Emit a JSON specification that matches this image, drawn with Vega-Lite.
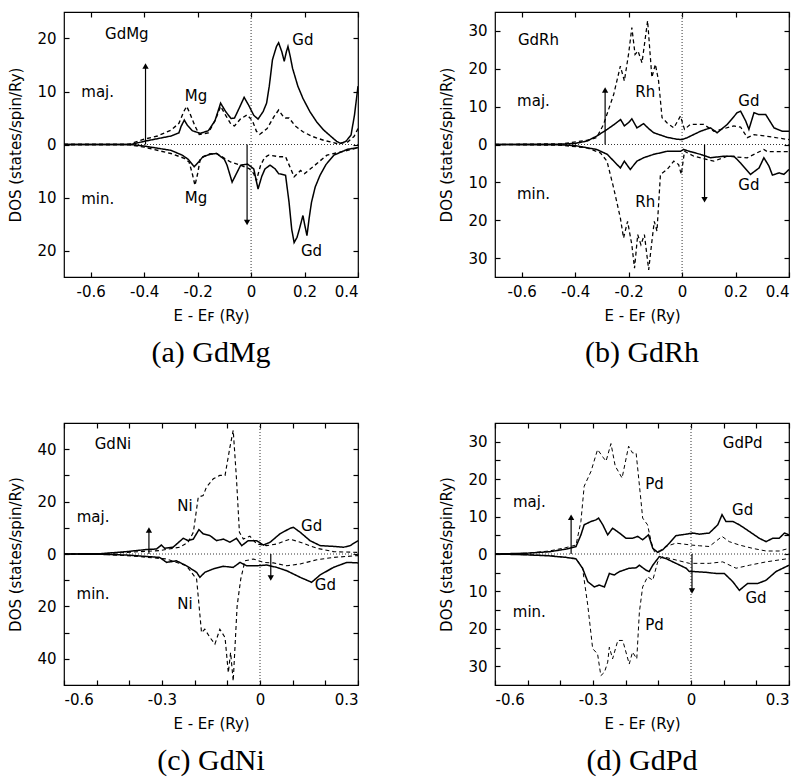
{
"$schema": "https://vega.github.io/schema/vega-lite/v6.json",
"padding": {"top": 10, "left": 8, "right": 0, "bottom": 0},
"datasets": {
"ac": [
{"el":"Gd","sp":"maj","e":-0.7,"v":0},{"el":"Gd","sp":"maj","e":-0.45,"v":0},{"el":"Gd","sp":"maj","e":-0.4,"v":0.6},{"el":"Gd","sp":"maj","e":-0.35,"v":1.1},{"el":"Gd","sp":"maj","e":-0.3,"v":1.6},{"el":"Gd","sp":"maj","e":-0.27,"v":2.2},{"el":"Gd","sp":"maj","e":-0.262,"v":3.4},{"el":"Gd","sp":"maj","e":-0.25,"v":4.6},{"el":"Gd","sp":"maj","e":-0.238,"v":3.6},{"el":"Gd","sp":"maj","e":-0.22,"v":2.6},{"el":"Gd","sp":"maj","e":-0.19,"v":2.1},{"el":"Gd","sp":"maj","e":-0.16,"v":2.6},{"el":"Gd","sp":"maj","e":-0.135,"v":4.5},{"el":"Gd","sp":"maj","e":-0.114,"v":7.8},{"el":"Gd","sp":"maj","e":-0.095,"v":6.2},{"el":"Gd","sp":"maj","e":-0.075,"v":4.9},{"el":"Gd","sp":"maj","e":-0.062,"v":5.0},{"el":"Gd","sp":"maj","e":-0.045,"v":6.8},{"el":"Gd","sp":"maj","e":-0.026,"v":8.9},{"el":"Gd","sp":"maj","e":-0.01,"v":7.5},{"el":"Gd","sp":"maj","e":0.01,"v":5.5},{"el":"Gd","sp":"maj","e":0.026,"v":4.8},{"el":"Gd","sp":"maj","e":0.045,"v":6.2},{"el":"Gd","sp":"maj","e":0.058,"v":7.8},{"el":"Gd","sp":"maj","e":0.068,"v":11},{"el":"Gd","sp":"maj","e":0.08,"v":16},{"el":"Gd","sp":"maj","e":0.095,"v":18.5},{"el":"Gd","sp":"maj","e":0.103,"v":19.2},{"el":"Gd","sp":"maj","e":0.115,"v":17.5},{"el":"Gd","sp":"maj","e":0.124,"v":15.7},{"el":"Gd","sp":"maj","e":0.132,"v":17.5},{"el":"Gd","sp":"maj","e":0.138,"v":18.5},{"el":"Gd","sp":"maj","e":0.147,"v":16.5},{"el":"Gd","sp":"maj","e":0.155,"v":14.4},{"el":"Gd","sp":"maj","e":0.175,"v":11},{"el":"Gd","sp":"maj","e":0.194,"v":8.7},{"el":"Gd","sp":"maj","e":0.22,"v":6.2},{"el":"Gd","sp":"maj","e":0.245,"v":4.3},{"el":"Gd","sp":"maj","e":0.27,"v":2.8},{"el":"Gd","sp":"maj","e":0.297,"v":1.6},{"el":"Gd","sp":"maj","e":0.32,"v":0.6},{"el":"Gd","sp":"maj","e":0.335,"v":0.2},{"el":"Gd","sp":"maj","e":0.355,"v":0.6},{"el":"Gd","sp":"maj","e":0.374,"v":1.8},{"el":"Gd","sp":"maj","e":0.387,"v":5.6},{"el":"Gd","sp":"maj","e":0.4,"v":11},
{"el":"Mg","sp":"maj","e":-0.7,"v":0},{"el":"Mg","sp":"maj","e":-0.46,"v":0},{"el":"Mg","sp":"maj","e":-0.4,"v":1.0},{"el":"Mg","sp":"maj","e":-0.35,"v":1.6},{"el":"Mg","sp":"maj","e":-0.3,"v":2.7},{"el":"Mg","sp":"maj","e":-0.27,"v":4},{"el":"Mg","sp":"maj","e":-0.252,"v":6.2},{"el":"Mg","sp":"maj","e":-0.241,"v":7.2},{"el":"Mg","sp":"maj","e":-0.23,"v":6},{"el":"Mg","sp":"maj","e":-0.21,"v":3.5},{"el":"Mg","sp":"maj","e":-0.194,"v":1.9},{"el":"Mg","sp":"maj","e":-0.16,"v":2.2},{"el":"Mg","sp":"maj","e":-0.135,"v":4.5},{"el":"Mg","sp":"maj","e":-0.114,"v":7.2},{"el":"Mg","sp":"maj","e":-0.095,"v":5.5},{"el":"Mg","sp":"maj","e":-0.075,"v":3.8},{"el":"Mg","sp":"maj","e":-0.062,"v":3.5},{"el":"Mg","sp":"maj","e":-0.04,"v":4.8},{"el":"Mg","sp":"maj","e":-0.015,"v":5.6},{"el":"Mg","sp":"maj","e":0.005,"v":4.5},{"el":"Mg","sp":"maj","e":0.02,"v":2.5},{"el":"Mg","sp":"maj","e":0.032,"v":1.9},{"el":"Mg","sp":"maj","e":0.06,"v":3},{"el":"Mg","sp":"maj","e":0.085,"v":5.2},{"el":"Mg","sp":"maj","e":0.103,"v":6.5},{"el":"Mg","sp":"maj","e":0.12,"v":5.3},{"el":"Mg","sp":"maj","e":0.128,"v":5.0},{"el":"Mg","sp":"maj","e":0.142,"v":5.0},{"el":"Mg","sp":"maj","e":0.165,"v":3.5},{"el":"Mg","sp":"maj","e":0.194,"v":2.4},{"el":"Mg","sp":"maj","e":0.23,"v":1.5},{"el":"Mg","sp":"maj","e":0.271,"v":0.8},{"el":"Mg","sp":"maj","e":0.32,"v":0.2},{"el":"Mg","sp":"maj","e":0.36,"v":0.4},{"el":"Mg","sp":"maj","e":0.385,"v":1.5},{"el":"Mg","sp":"maj","e":0.4,"v":3},
{"el":"Gd","sp":"min","e":-0.7,"v":0},{"el":"Gd","sp":"min","e":-0.45,"v":0},{"el":"Gd","sp":"min","e":-0.4,"v":-0.3},{"el":"Gd","sp":"min","e":-0.3,"v":-1.1},{"el":"Gd","sp":"min","e":-0.258,"v":-2},{"el":"Gd","sp":"min","e":-0.235,"v":-2.8},{"el":"Gd","sp":"min","e":-0.213,"v":-4.2},{"el":"Gd","sp":"min","e":-0.195,"v":-3.2},{"el":"Gd","sp":"min","e":-0.18,"v":-2.3},{"el":"Gd","sp":"min","e":-0.15,"v":-1.8},{"el":"Gd","sp":"min","e":-0.129,"v":-1.7},{"el":"Gd","sp":"min","e":-0.1,"v":-2.8},{"el":"Gd","sp":"min","e":-0.09,"v":-3.9},{"el":"Gd","sp":"min","e":-0.071,"v":-7.1},{"el":"Gd","sp":"min","e":-0.055,"v":-5.5},{"el":"Gd","sp":"min","e":-0.039,"v":-3.9},{"el":"Gd","sp":"min","e":-0.013,"v":-3.7},{"el":"Gd","sp":"min","e":0.01,"v":-4.6},{"el":"Gd","sp":"min","e":0.026,"v":-8.4},{"el":"Gd","sp":"min","e":0.04,"v":-6},{"el":"Gd","sp":"min","e":0.052,"v":-4.6},{"el":"Gd","sp":"min","e":0.071,"v":-3.9},{"el":"Gd","sp":"min","e":0.09,"v":-4.6},{"el":"Gd","sp":"min","e":0.103,"v":-5.5},{"el":"Gd","sp":"min","e":0.129,"v":-5.8},{"el":"Gd","sp":"min","e":0.142,"v":-10.9},{"el":"Gd","sp":"min","e":0.152,"v":-16},{"el":"Gd","sp":"min","e":0.161,"v":-18.5},{"el":"Gd","sp":"min","e":0.172,"v":-17.5},{"el":"Gd","sp":"min","e":0.181,"v":-15.9},{"el":"Gd","sp":"min","e":0.194,"v":-13.4},{"el":"Gd","sp":"min","e":0.2,"v":-15},{"el":"Gd","sp":"min","e":0.209,"v":-17.2},{"el":"Gd","sp":"min","e":0.217,"v":-14},{"el":"Gd","sp":"min","e":0.226,"v":-10.9},{"el":"Gd","sp":"min","e":0.24,"v":-8},{"el":"Gd","sp":"min","e":0.258,"v":-5.8},{"el":"Gd","sp":"min","e":0.28,"v":-3.8},{"el":"Gd","sp":"min","e":0.31,"v":-2.0},{"el":"Gd","sp":"min","e":0.361,"v":-0.9},{"el":"Gd","sp":"min","e":0.4,"v":-0.6},
{"el":"Mg","sp":"min","e":-0.7,"v":0},{"el":"Mg","sp":"min","e":-0.46,"v":0},{"el":"Mg","sp":"min","e":-0.4,"v":-0.5},{"el":"Mg","sp":"min","e":-0.3,"v":-1.7},{"el":"Mg","sp":"min","e":-0.25,"v":-2.6},{"el":"Mg","sp":"min","e":-0.232,"v":-3.3},{"el":"Mg","sp":"min","e":-0.22,"v":-5.5},{"el":"Mg","sp":"min","e":-0.21,"v":-7.7},{"el":"Mg","sp":"min","e":-0.2,"v":-5.5},{"el":"Mg","sp":"min","e":-0.19,"v":-2.7},{"el":"Mg","sp":"min","e":-0.16,"v":-1.8},{"el":"Mg","sp":"min","e":-0.129,"v":-1.7},{"el":"Mg","sp":"min","e":-0.077,"v":-3.3},{"el":"Mg","sp":"min","e":-0.039,"v":-3.9},{"el":"Mg","sp":"min","e":-0.006,"v":-4.6},{"el":"Mg","sp":"min","e":0.01,"v":-5.5},{"el":"Mg","sp":"min","e":0.02,"v":-6.8},{"el":"Mg","sp":"min","e":0.035,"v":-4},{"el":"Mg","sp":"min","e":0.05,"v":-2.5},{"el":"Mg","sp":"min","e":0.065,"v":-2.0},{"el":"Mg","sp":"min","e":0.103,"v":-2.3},{"el":"Mg","sp":"min","e":0.129,"v":-2.3},{"el":"Mg","sp":"min","e":0.161,"v":-6.1},{"el":"Mg","sp":"min","e":0.185,"v":-4.9},{"el":"Mg","sp":"min","e":0.2,"v":-5.5},{"el":"Mg","sp":"min","e":0.232,"v":-4.2},{"el":"Mg","sp":"min","e":0.284,"v":-2.0},{"el":"Mg","sp":"min","e":0.361,"v":-1.1},{"el":"Mg","sp":"min","e":0.4,"v":-0.6}
],
"bc": [
{"el":"Gd","sp":"maj","e":-0.7,"v":0},{"el":"Gd","sp":"maj","e":-0.45,"v":0.1},{"el":"Gd","sp":"maj","e":-0.4,"v":0.3},{"el":"Gd","sp":"maj","e":-0.356,"v":0.9},{"el":"Gd","sp":"maj","e":-0.32,"v":2.2},{"el":"Gd","sp":"maj","e":-0.28,"v":4},{"el":"Gd","sp":"maj","e":-0.25,"v":5.5},{"el":"Gd","sp":"maj","e":-0.23,"v":6.6},{"el":"Gd","sp":"maj","e":-0.216,"v":4.9},{"el":"Gd","sp":"maj","e":-0.2,"v":5.8},{"el":"Gd","sp":"maj","e":-0.188,"v":6.8},{"el":"Gd","sp":"maj","e":-0.169,"v":4.4},{"el":"Gd","sp":"maj","e":-0.144,"v":5.5},{"el":"Gd","sp":"maj","e":-0.125,"v":4.2},{"el":"Gd","sp":"maj","e":-0.106,"v":3.1},{"el":"Gd","sp":"maj","e":-0.056,"v":1.9},{"el":"Gd","sp":"maj","e":-0.02,"v":1.4},{"el":"Gd","sp":"maj","e":0,"v":1.3},{"el":"Gd","sp":"maj","e":0.019,"v":1.8},{"el":"Gd","sp":"maj","e":0.069,"v":3.5},{"el":"Gd","sp":"maj","e":0.106,"v":4.4},{"el":"Gd","sp":"maj","e":0.131,"v":3.1},{"el":"Gd","sp":"maj","e":0.169,"v":5.3},{"el":"Gd","sp":"maj","e":0.206,"v":8.4},{"el":"Gd","sp":"maj","e":0.219,"v":8.8},{"el":"Gd","sp":"maj","e":0.238,"v":6.2},{"el":"Gd","sp":"maj","e":0.25,"v":4.0},{"el":"Gd","sp":"maj","e":0.269,"v":8.4},{"el":"Gd","sp":"maj","e":0.288,"v":7.9},{"el":"Gd","sp":"maj","e":0.313,"v":7.9},{"el":"Gd","sp":"maj","e":0.344,"v":4.4},{"el":"Gd","sp":"maj","e":0.375,"v":3.5},{"el":"Gd","sp":"maj","e":0.4,"v":3.5},
{"el":"Rh","sp":"maj","e":-0.7,"v":0},{"el":"Rh","sp":"maj","e":-0.45,"v":0.2},{"el":"Rh","sp":"maj","e":-0.356,"v":1.1},{"el":"Rh","sp":"maj","e":-0.32,"v":1.8},{"el":"Rh","sp":"maj","e":-0.294,"v":5.3},{"el":"Rh","sp":"maj","e":-0.256,"v":13.2},{"el":"Rh","sp":"maj","e":-0.231,"v":20.7},{"el":"Rh","sp":"maj","e":-0.216,"v":16.8},{"el":"Rh","sp":"maj","e":-0.2,"v":24},{"el":"Rh","sp":"maj","e":-0.188,"v":30.9},{"el":"Rh","sp":"maj","e":-0.176,"v":23.8},{"el":"Rh","sp":"maj","e":-0.165,"v":24.7},{"el":"Rh","sp":"maj","e":-0.15,"v":21.6},{"el":"Rh","sp":"maj","e":-0.129,"v":32.7},{"el":"Rh","sp":"maj","e":-0.113,"v":17.7},{"el":"Rh","sp":"maj","e":-0.1,"v":21.2},{"el":"Rh","sp":"maj","e":-0.088,"v":16.8},{"el":"Rh","sp":"maj","e":-0.075,"v":7.1},{"el":"Rh","sp":"maj","e":-0.056,"v":5.7},{"el":"Rh","sp":"maj","e":-0.031,"v":4.4},{"el":"Rh","sp":"maj","e":-0.006,"v":7.5},{"el":"Rh","sp":"maj","e":0.009,"v":4.0},{"el":"Rh","sp":"maj","e":0.031,"v":5.3},{"el":"Rh","sp":"maj","e":0.081,"v":5.3},{"el":"Rh","sp":"maj","e":0.119,"v":3.5},{"el":"Rh","sp":"maj","e":0.194,"v":4.9},{"el":"Rh","sp":"maj","e":0.219,"v":4.6},{"el":"Rh","sp":"maj","e":0.244,"v":1.8},{"el":"Rh","sp":"maj","e":0.269,"v":2.6},{"el":"Rh","sp":"maj","e":0.313,"v":2.2},{"el":"Rh","sp":"maj","e":0.4,"v":1.3},
{"el":"Gd","sp":"min","e":-0.7,"v":0},{"el":"Gd","sp":"min","e":-0.45,"v":-0.1},{"el":"Gd","sp":"min","e":-0.4,"v":-0.3},{"el":"Gd","sp":"min","e":-0.32,"v":-1.3},{"el":"Gd","sp":"min","e":-0.28,"v":-2.6},{"el":"Gd","sp":"min","e":-0.231,"v":-6.2},{"el":"Gd","sp":"min","e":-0.216,"v":-4.4},{"el":"Gd","sp":"min","e":-0.194,"v":-6.6},{"el":"Gd","sp":"min","e":-0.169,"v":-4.4},{"el":"Gd","sp":"min","e":-0.144,"v":-3.5},{"el":"Gd","sp":"min","e":-0.106,"v":-2.6},{"el":"Gd","sp":"min","e":-0.056,"v":-1.8},{"el":"Gd","sp":"min","e":-0.006,"v":-1.8},{"el":"Gd","sp":"min","e":0.006,"v":-1.3},{"el":"Gd","sp":"min","e":0.031,"v":-1.9},{"el":"Gd","sp":"min","e":0.069,"v":-2.6},{"el":"Gd","sp":"min","e":0.106,"v":-3.5},{"el":"Gd","sp":"min","e":0.156,"v":-3.1},{"el":"Gd","sp":"min","e":0.194,"v":-3.1},{"el":"Gd","sp":"min","e":0.219,"v":-4.9},{"el":"Gd","sp":"min","e":0.256,"v":-7.9},{"el":"Gd","sp":"min","e":0.288,"v":-6.2},{"el":"Gd","sp":"min","e":0.306,"v":-3.5},{"el":"Gd","sp":"min","e":0.325,"v":-5.7},{"el":"Gd","sp":"min","e":0.338,"v":-8.1},{"el":"Gd","sp":"min","e":0.363,"v":-7.5},{"el":"Gd","sp":"min","e":0.381,"v":-7.9},{"el":"Gd","sp":"min","e":0.4,"v":-6.6},
{"el":"Rh","sp":"min","e":-0.7,"v":0},{"el":"Rh","sp":"min","e":-0.45,"v":-0.2},{"el":"Rh","sp":"min","e":-0.356,"v":-0.9},{"el":"Rh","sp":"min","e":-0.306,"v":-2.2},{"el":"Rh","sp":"min","e":-0.281,"v":-4.4},{"el":"Rh","sp":"min","e":-0.256,"v":-11.5},{"el":"Rh","sp":"min","e":-0.231,"v":-19.4},{"el":"Rh","sp":"min","e":-0.219,"v":-24.7},{"el":"Rh","sp":"min","e":-0.204,"v":-20.3},{"el":"Rh","sp":"min","e":-0.188,"v":-26.5},{"el":"Rh","sp":"min","e":-0.178,"v":-32.7},{"el":"Rh","sp":"min","e":-0.166,"v":-23.8},{"el":"Rh","sp":"min","e":-0.154,"v":-26.5},{"el":"Rh","sp":"min","e":-0.141,"v":-23.8},{"el":"Rh","sp":"min","e":-0.125,"v":-33.1},{"el":"Rh","sp":"min","e":-0.113,"v":-25.6},{"el":"Rh","sp":"min","e":-0.104,"v":-20.3},{"el":"Rh","sp":"min","e":-0.094,"v":-22.9},{"el":"Rh","sp":"min","e":-0.081,"v":-7.9},{"el":"Rh","sp":"min","e":-0.056,"v":-6.6},{"el":"Rh","sp":"min","e":-0.031,"v":-4.4},{"el":"Rh","sp":"min","e":-0.013,"v":-5.3},{"el":"Rh","sp":"min","e":-0.003,"v":-7.9},{"el":"Rh","sp":"min","e":0.009,"v":-1.8},{"el":"Rh","sp":"min","e":0.044,"v":-3.1},{"el":"Rh","sp":"min","e":0.119,"v":-4.4},{"el":"Rh","sp":"min","e":0.169,"v":-3.1},{"el":"Rh","sp":"min","e":0.244,"v":-3.5},{"el":"Rh","sp":"min","e":0.306,"v":-1.3},{"el":"Rh","sp":"min","e":0.319,"v":-1.9},{"el":"Rh","sp":"min","e":0.4,"v":-1.9}
],
"cc": [
{"el":"Gd","sp":"maj","e":-0.6,"v":0},{"el":"Gd","sp":"maj","e":-0.49,"v":0.1},{"el":"Gd","sp":"maj","e":-0.409,"v":0.9},{"el":"Gd","sp":"maj","e":-0.348,"v":1.7},{"el":"Gd","sp":"maj","e":-0.317,"v":1.9},{"el":"Gd","sp":"maj","e":-0.302,"v":3.4},{"el":"Gd","sp":"maj","e":-0.292,"v":2.2},{"el":"Gd","sp":"maj","e":-0.266,"v":2.6},{"el":"Gd","sp":"maj","e":-0.235,"v":6.0},{"el":"Gd","sp":"maj","e":-0.22,"v":5.1},{"el":"Gd","sp":"maj","e":-0.204,"v":5.7},{"el":"Gd","sp":"maj","e":-0.187,"v":9.3},{"el":"Gd","sp":"maj","e":-0.174,"v":7.7},{"el":"Gd","sp":"maj","e":-0.153,"v":7.0},{"el":"Gd","sp":"maj","e":-0.133,"v":5.1},{"el":"Gd","sp":"maj","e":-0.112,"v":5.7},{"el":"Gd","sp":"maj","e":-0.092,"v":4.5},{"el":"Gd","sp":"maj","e":-0.072,"v":6.0},{"el":"Gd","sp":"maj","e":-0.056,"v":3.2},{"el":"Gd","sp":"maj","e":-0.036,"v":5.1},{"el":"Gd","sp":"maj","e":-0.01,"v":5.1},{"el":"Gd","sp":"maj","e":0.01,"v":3.4},{"el":"Gd","sp":"maj","e":0.031,"v":4.5},{"el":"Gd","sp":"maj","e":0.061,"v":7.7},{"el":"Gd","sp":"maj","e":0.092,"v":9.8},{"el":"Gd","sp":"maj","e":0.102,"v":10.2},{"el":"Gd","sp":"maj","e":0.123,"v":8.3},{"el":"Gd","sp":"maj","e":0.153,"v":5.1},{"el":"Gd","sp":"maj","e":0.184,"v":3.2},{"el":"Gd","sp":"maj","e":0.225,"v":2.9},{"el":"Gd","sp":"maj","e":0.256,"v":2.6},{"el":"Gd","sp":"maj","e":0.276,"v":3.2},{"el":"Gd","sp":"maj","e":0.3,"v":5.1},
{"el":"Ni","sp":"maj","e":-0.6,"v":0},{"el":"Ni","sp":"maj","e":-0.49,"v":0.1},{"el":"Ni","sp":"maj","e":-0.409,"v":0.6},{"el":"Ni","sp":"maj","e":-0.307,"v":1.3},{"el":"Ni","sp":"maj","e":-0.245,"v":2.6},{"el":"Ni","sp":"maj","e":-0.22,"v":4.5},{"el":"Ni","sp":"maj","e":-0.204,"v":8.3},{"el":"Ni","sp":"maj","e":-0.189,"v":21.7},{"el":"Ni","sp":"maj","e":-0.174,"v":22.3},{"el":"Ni","sp":"maj","e":-0.164,"v":25.5},{"el":"Ni","sp":"maj","e":-0.143,"v":28.7},{"el":"Ni","sp":"maj","e":-0.123,"v":30},{"el":"Ni","sp":"maj","e":-0.107,"v":30},{"el":"Ni","sp":"maj","e":-0.092,"v":40.8},{"el":"Ni","sp":"maj","e":-0.082,"v":47.2},{"el":"Ni","sp":"maj","e":-0.072,"v":28.7},{"el":"Ni","sp":"maj","e":-0.063,"v":8.3},{"el":"Ni","sp":"maj","e":-0.051,"v":5.7},{"el":"Ni","sp":"maj","e":-0.031,"v":6.8},{"el":"Ni","sp":"maj","e":-0.01,"v":3.8},{"el":"Ni","sp":"maj","e":0.02,"v":3.2},{"el":"Ni","sp":"maj","e":0.051,"v":3.8},{"el":"Ni","sp":"maj","e":0.092,"v":5.7},{"el":"Ni","sp":"maj","e":0.123,"v":4.5},{"el":"Ni","sp":"maj","e":0.174,"v":2.2},{"el":"Ni","sp":"maj","e":0.225,"v":0.9},{"el":"Ni","sp":"maj","e":0.3,"v":0.6},
{"el":"Gd","sp":"min","e":-0.6,"v":0},{"el":"Gd","sp":"min","e":-0.49,"v":-0.1},{"el":"Gd","sp":"min","e":-0.409,"v":-0.4},{"el":"Gd","sp":"min","e":-0.307,"v":-1.3},{"el":"Gd","sp":"min","e":-0.286,"v":-3.2},{"el":"Gd","sp":"min","e":-0.256,"v":-2.6},{"el":"Gd","sp":"min","e":-0.225,"v":-4.5},{"el":"Gd","sp":"min","e":-0.194,"v":-7.0},{"el":"Gd","sp":"min","e":-0.184,"v":-8.9},{"el":"Gd","sp":"min","e":-0.169,"v":-7.0},{"el":"Gd","sp":"min","e":-0.143,"v":-5.7},{"el":"Gd","sp":"min","e":-0.112,"v":-4.7},{"el":"Gd","sp":"min","e":-0.082,"v":-5.1},{"el":"Gd","sp":"min","e":-0.061,"v":-3.2},{"el":"Gd","sp":"min","e":-0.041,"v":-4.5},{"el":"Gd","sp":"min","e":-0.01,"v":-4.5},{"el":"Gd","sp":"min","e":0.02,"v":-4.2},{"el":"Gd","sp":"min","e":0.051,"v":-5.1},{"el":"Gd","sp":"min","e":0.082,"v":-6.4},{"el":"Gd","sp":"min","e":0.123,"v":-8.9},{"el":"Gd","sp":"min","e":0.158,"v":-10.8},{"el":"Gd","sp":"min","e":0.184,"v":-8.0},{"el":"Gd","sp":"min","e":0.225,"v":-5.1},{"el":"Gd","sp":"min","e":0.266,"v":-3.2},{"el":"Gd","sp":"min","e":0.3,"v":-3.4},
{"el":"Ni","sp":"min","e":-0.6,"v":0},{"el":"Ni","sp":"min","e":-0.49,"v":-0.1},{"el":"Ni","sp":"min","e":-0.409,"v":-0.6},{"el":"Ni","sp":"min","e":-0.286,"v":-1.9},{"el":"Ni","sp":"min","e":-0.225,"v":-4.5},{"el":"Ni","sp":"min","e":-0.194,"v":-9.6},{"el":"Ni","sp":"min","e":-0.179,"v":-30},{"el":"Ni","sp":"min","e":-0.169,"v":-28.7},{"el":"Ni","sp":"min","e":-0.153,"v":-31.9},{"el":"Ni","sp":"min","e":-0.138,"v":-34.4},{"el":"Ni","sp":"min","e":-0.123,"v":-28.7},{"el":"Ni","sp":"min","e":-0.107,"v":-31.9},{"el":"Ni","sp":"min","e":-0.097,"v":-45.3},{"el":"Ni","sp":"min","e":-0.09,"v":-37.6},{"el":"Ni","sp":"min","e":-0.082,"v":-48.5},{"el":"Ni","sp":"min","e":-0.07,"v":-19.8},{"el":"Ni","sp":"min","e":-0.059,"v":-9.6},{"el":"Ni","sp":"min","e":-0.046,"v":-2.6},{"el":"Ni","sp":"min","e":-0.02,"v":-1.9},{"el":"Ni","sp":"min","e":0.01,"v":-3.2},{"el":"Ni","sp":"min","e":0.041,"v":-3.4},{"el":"Ni","sp":"min","e":0.082,"v":-4.5},{"el":"Ni","sp":"min","e":0.123,"v":-3.8},{"el":"Ni","sp":"min","e":0.174,"v":-2.2},{"el":"Ni","sp":"min","e":0.225,"v":-1.3},{"el":"Ni","sp":"min","e":0.3,"v":-0.6}
],
"dc": [
{"el":"Gd","sp":"maj","e":-0.6,"v":0},{"el":"Gd","sp":"maj","e":-0.505,"v":0.2},{"el":"Gd","sp":"maj","e":-0.434,"v":0.6},{"el":"Gd","sp":"maj","e":-0.383,"v":1.3},{"el":"Gd","sp":"maj","e":-0.352,"v":2.0},{"el":"Gd","sp":"maj","e":-0.337,"v":5.1},{"el":"Gd","sp":"maj","e":-0.327,"v":7.8},{"el":"Gd","sp":"maj","e":-0.306,"v":8.7},{"el":"Gd","sp":"maj","e":-0.291,"v":9.1},{"el":"Gd","sp":"maj","e":-0.283,"v":9.6},{"el":"Gd","sp":"maj","e":-0.27,"v":7.8},{"el":"Gd","sp":"maj","e":-0.255,"v":5.1},{"el":"Gd","sp":"maj","e":-0.24,"v":6.9},{"el":"Gd","sp":"maj","e":-0.219,"v":5.6},{"el":"Gd","sp":"maj","e":-0.199,"v":4.2},{"el":"Gd","sp":"maj","e":-0.179,"v":4.2},{"el":"Gd","sp":"maj","e":-0.163,"v":4.7},{"el":"Gd","sp":"maj","e":-0.148,"v":3.8},{"el":"Gd","sp":"maj","e":-0.13,"v":5.1},{"el":"Gd","sp":"maj","e":-0.117,"v":1.5},{"el":"Gd","sp":"maj","e":-0.102,"v":0.45},{"el":"Gd","sp":"maj","e":-0.087,"v":1.1},{"el":"Gd","sp":"maj","e":-0.066,"v":2.9},{"el":"Gd","sp":"maj","e":-0.046,"v":4.9},{"el":"Gd","sp":"maj","e":-0.015,"v":5.3},{"el":"Gd","sp":"maj","e":0.005,"v":5.6},{"el":"Gd","sp":"maj","e":0.026,"v":5.3},{"el":"Gd","sp":"maj","e":0.056,"v":5.6},{"el":"Gd","sp":"maj","e":0.082,"v":7.8},{"el":"Gd","sp":"maj","e":0.095,"v":10.5},{"el":"Gd","sp":"maj","e":0.107,"v":8.7},{"el":"Gd","sp":"maj","e":0.128,"v":8.7},{"el":"Gd","sp":"maj","e":0.148,"v":7.8},{"el":"Gd","sp":"maj","e":0.179,"v":6.0},{"el":"Gd","sp":"maj","e":0.209,"v":4.2},{"el":"Gd","sp":"maj","e":0.23,"v":3.3},{"el":"Gd","sp":"maj","e":0.25,"v":4.2},{"el":"Gd","sp":"maj","e":0.27,"v":4.2},{"el":"Gd","sp":"maj","e":0.286,"v":5.6},{"el":"Gd","sp":"maj","e":0.3,"v":5.1},
{"el":"Pd","sp":"maj","e":-0.6,"v":0},{"el":"Pd","sp":"maj","e":-0.505,"v":0.2},{"el":"Pd","sp":"maj","e":-0.434,"v":0.8},{"el":"Pd","sp":"maj","e":-0.383,"v":1.7},{"el":"Pd","sp":"maj","e":-0.352,"v":2.4},{"el":"Pd","sp":"maj","e":-0.337,"v":8.7},{"el":"Pd","sp":"maj","e":-0.327,"v":18.1},{"el":"Pd","sp":"maj","e":-0.306,"v":22.1},{"el":"Pd","sp":"maj","e":-0.286,"v":27.9},{"el":"Pd","sp":"maj","e":-0.268,"v":25.7},{"el":"Pd","sp":"maj","e":-0.26,"v":24.8},{"el":"Pd","sp":"maj","e":-0.245,"v":29.5},{"el":"Pd","sp":"maj","e":-0.232,"v":23.5},{"el":"Pd","sp":"maj","e":-0.211,"v":20.3},{"el":"Pd","sp":"maj","e":-0.191,"v":28.8},{"el":"Pd","sp":"maj","e":-0.179,"v":27},{"el":"Pd","sp":"maj","e":-0.168,"v":27},{"el":"Pd","sp":"maj","e":-0.153,"v":14.1},{"el":"Pd","sp":"maj","e":-0.148,"v":9.6},{"el":"Pd","sp":"maj","e":-0.133,"v":7.8},{"el":"Pd","sp":"maj","e":-0.122,"v":3.3},{"el":"Pd","sp":"maj","e":-0.112,"v":0.6},{"el":"Pd","sp":"maj","e":-0.097,"v":0.8},{"el":"Pd","sp":"maj","e":-0.077,"v":2.0},{"el":"Pd","sp":"maj","e":-0.046,"v":2.9},{"el":"Pd","sp":"maj","e":0,"v":2.4},{"el":"Pd","sp":"maj","e":0.026,"v":2.2},{"el":"Pd","sp":"maj","e":0.056,"v":2.0},{"el":"Pd","sp":"maj","e":0.095,"v":4.7},{"el":"Pd","sp":"maj","e":0.117,"v":3.3},{"el":"Pd","sp":"maj","e":0.148,"v":2.4},{"el":"Pd","sp":"maj","e":0.189,"v":1.5},{"el":"Pd","sp":"maj","e":0.23,"v":0.8},{"el":"Pd","sp":"maj","e":0.27,"v":0.8},{"el":"Pd","sp":"maj","e":0.3,"v":1.5},
{"el":"Gd","sp":"min","e":-0.6,"v":0},{"el":"Gd","sp":"min","e":-0.505,"v":-0.2},{"el":"Gd","sp":"min","e":-0.434,"v":-0.5},{"el":"Gd","sp":"min","e":-0.383,"v":-0.9},{"el":"Gd","sp":"min","e":-0.352,"v":-1.3},{"el":"Gd","sp":"min","e":-0.332,"v":-3.8},{"el":"Gd","sp":"min","e":-0.316,"v":-7.4},{"el":"Gd","sp":"min","e":-0.296,"v":-8.8},{"el":"Gd","sp":"min","e":-0.281,"v":-8.3},{"el":"Gd","sp":"min","e":-0.265,"v":-8.8},{"el":"Gd","sp":"min","e":-0.25,"v":-5.2},{"el":"Gd","sp":"min","e":-0.235,"v":-5.6},{"el":"Gd","sp":"min","e":-0.219,"v":-4.7},{"el":"Gd","sp":"min","e":-0.189,"v":-3.8},{"el":"Gd","sp":"min","e":-0.168,"v":-3.7},{"el":"Gd","sp":"min","e":-0.158,"v":-3.0},{"el":"Gd","sp":"min","e":-0.138,"v":-4.3},{"el":"Gd","sp":"min","e":-0.128,"v":-4.7},{"el":"Gd","sp":"min","e":-0.117,"v":-3.0},{"el":"Gd","sp":"min","e":-0.097,"v":-0.7},{"el":"Gd","sp":"min","e":-0.077,"v":-1.2},{"el":"Gd","sp":"min","e":-0.046,"v":-2.5},{"el":"Gd","sp":"min","e":-0.015,"v":-3.8},{"el":"Gd","sp":"min","e":-0.005,"v":-4.7},{"el":"Gd","sp":"min","e":0.01,"v":-4.7},{"el":"Gd","sp":"min","e":0.046,"v":-4.9},{"el":"Gd","sp":"min","e":0.077,"v":-5.2},{"el":"Gd","sp":"min","e":0.102,"v":-5.2},{"el":"Gd","sp":"min","e":0.128,"v":-7.4},{"el":"Gd","sp":"min","e":0.148,"v":-9.7},{"el":"Gd","sp":"min","e":0.173,"v":-7.9},{"el":"Gd","sp":"min","e":0.204,"v":-7.9},{"el":"Gd","sp":"min","e":0.23,"v":-7.0},{"el":"Gd","sp":"min","e":0.26,"v":-4.7},{"el":"Gd","sp":"min","e":0.3,"v":-3.0},
{"el":"Pd","sp":"min","e":-0.6,"v":0},{"el":"Pd","sp":"min","e":-0.505,"v":-0.2},{"el":"Pd","sp":"min","e":-0.434,"v":-0.4},{"el":"Pd","sp":"min","e":-0.352,"v":-1.2},{"el":"Pd","sp":"min","e":-0.332,"v":-3.8},{"el":"Pd","sp":"min","e":-0.316,"v":-13.7},{"el":"Pd","sp":"min","e":-0.301,"v":-25.3},{"el":"Pd","sp":"min","e":-0.286,"v":-26.7},{"el":"Pd","sp":"min","e":-0.276,"v":-32.5},{"el":"Pd","sp":"min","e":-0.265,"v":-31.6},{"el":"Pd","sp":"min","e":-0.255,"v":-28.9},{"el":"Pd","sp":"min","e":-0.25,"v":-24.9},{"el":"Pd","sp":"min","e":-0.24,"v":-28},{"el":"Pd","sp":"min","e":-0.224,"v":-23.1},{"el":"Pd","sp":"min","e":-0.209,"v":-23.1},{"el":"Pd","sp":"min","e":-0.189,"v":-29.4},{"el":"Pd","sp":"min","e":-0.179,"v":-26.2},{"el":"Pd","sp":"min","e":-0.166,"v":-28},{"el":"Pd","sp":"min","e":-0.158,"v":-15.5},{"el":"Pd","sp":"min","e":-0.148,"v":-8.8},{"el":"Pd","sp":"min","e":-0.133,"v":-6.1},{"el":"Pd","sp":"min","e":-0.117,"v":-7.0},{"el":"Pd","sp":"min","e":-0.102,"v":-2.1},{"el":"Pd","sp":"min","e":-0.087,"v":-0.7},{"el":"Pd","sp":"min","e":-0.046,"v":-1.6},{"el":"Pd","sp":"min","e":-0.005,"v":-2.5},{"el":"Pd","sp":"min","e":0.056,"v":-2.5},{"el":"Pd","sp":"min","e":0.097,"v":-2.1},{"el":"Pd","sp":"min","e":0.138,"v":-3.8},{"el":"Pd","sp":"min","e":0.179,"v":-3.0},{"el":"Pd","sp":"min","e":0.23,"v":-2.1},{"el":"Pd","sp":"min","e":0.3,"v":-1.2}
],
"at": [{"t":"GdMg","e":-0.465,"v":20.8},{"t":"maj.","e":-0.574,"v":9.9},{"t":"min.","e":-0.574,"v":-10.2},{"t":"Mg","e":-0.206,"v":9.2},{"t":"Mg","e":-0.206,"v":-10.1},{"t":"Gd","e":0.194,"v":19.8},{"t":"Gd","e":0.226,"v":-20}],
"bt": [{"t":"GdRh","e":-0.5375,"v":27.5},{"t":"maj.","e":-0.556,"v":11.5},{"t":"min.","e":-0.556,"v":-13.2},{"t":"Rh","e":-0.1375,"v":14},{"t":"Rh","e":-0.1375,"v":-15.3},{"t":"Gd","e":0.25,"v":11.5},{"t":"Gd","e":0.25,"v":-10.6}],
"ct": [{"t":"GdNi","e":-0.45,"v":42},{"t":"maj.","e":-0.511,"v":14},{"t":"min.","e":-0.511,"v":-15.3},{"t":"Ni","e":-0.23,"v":18.5},{"t":"Ni","e":-0.23,"v":-19.1},{"t":"Gd","e":0.158,"v":10.8},{"t":"Gd","e":0.2,"v":-11.9}],
"dt": [{"t":"GdPd","e":0.158,"v":29.7},{"t":"maj.","e":-0.495,"v":14},{"t":"min.","e":-0.495,"v":-15.5},{"t":"Pd","e":-0.112,"v":18.7},{"t":"Pd","e":-0.112,"v":-19.1},{"t":"Gd","e":0.158,"v":11.8},{"t":"Gd","e":0.199,"v":-11.7}],
"aa": [{"e":-0.395,"v0":0,"v":14.8,"d":"up"},{"e":-0.015,"v0":0,"v":-14.7,"d":"down"}],
"ba": [{"e":-0.288,"v0":0,"v":14.4,"d":"up"},{"e":0.084,"v0":0,"v":-14.6,"d":"down"}],
"ca": [{"e":-0.34,"v0":0,"v":9.2,"d":"up"},{"e":0.033,"v0":0,"v":-9.2,"d":"down"}],
"da": [{"e":-0.367,"v0":0,"v":9.8,"d":"up"},{"e":0.003,"v0":0,"v":-9.9,"d":"down"}],
"zero": [{"z":0}]
},
"vconcat": [
{"hconcat": [
{"width": 294, "height": 265, "title": "(a) GdMg",
 "layer": [
  {"data": {"name": "zero"}, "mark": {"type": "rule", "strokeDash": [1, 2], "color": "#333", "strokeWidth": 1}, "encoding": {"x": {"field": "z", "type": "quantitative", "axis": null}}},
  {"data": {"name": "zero"}, "mark": {"type": "rule", "strokeDash": [1, 2], "color": "#333", "strokeWidth": 1}, "encoding": {"y": {"field": "z", "type": "quantitative", "axis": null}}},
  {"data": {"name": "ac"}, "mark": {"type": "line", "color": "black", "clip": true},
   "encoding": {
    "x": {"field": "e", "type": "quantitative", "scale": {"domain": [-0.7, 0.4], "nice": false, "zero": false}, "axis": {"orient": "bottom", "title": "E - Eꜰ  (Ry)", "values": [-0.6, -0.4, -0.2, 0, 0.2, 0.4], "labelExpr": "datum.value == 0 ? '0' : (datum.value < 0 ? '-' : '') + format(abs(datum.value), '.1f')"}},
    "y": {"field": "v", "type": "quantitative", "scale": {"domain": [-25, 25], "nice": false, "zero": false}, "axis": {"orient": "left", "title": "DOS (states/spin/Ry)", "values": [-20, -10, 0, 10, 20], "labelExpr": "format(abs(datum.value), 'd')"}},
    "strokeDash": {"field": "el", "type": "nominal", "scale": {"domain": ["Gd", "Mg", "Rh", "Ni", "Pd"], "range": [[1, 0], [4, 3], [4, 3], [4, 3], [4, 3]]}, "legend": null},
    "strokeWidth": {"field": "el", "type": "nominal", "scale": {"domain": ["Gd", "Mg", "Rh", "Ni", "Pd"], "range": [1.5, 1, 1, 1, 1]}, "legend": null},
    "detail": {"field": "sp", "type": "nominal"}}},
  {"data": {"name": "aa"}, "mark": {"type": "rule", "color": "black", "strokeWidth": 1.2}, "encoding": {"x": {"field": "e", "type": "quantitative", "axis": null}, "y": {"field": "v0", "type": "quantitative", "axis": null}, "y2": {"field": "v"}}},
  {"data": {"name": "aa"}, "mark": {"type": "point", "filled": true, "color": "black", "opacity": 1, "size": 40}, "encoding": {"x": {"field": "e", "type": "quantitative", "axis": null}, "y": {"field": "v", "type": "quantitative", "axis": null}, "shape": {"field": "d", "type": "nominal", "scale": {"domain": ["up", "down"], "range": ["triangle-up", "triangle-down"]}, "legend": null}}},
  {"data": {"name": "at"}, "mark": {"type": "text", "color": "black", "fontSize": 15},
   "encoding": {"text": {"field": "t", "type": "nominal"},
    "x": {"field": "e", "type": "quantitative", "axis": {"orient": "top", "labels": false, "title": null, "values": [-0.6, -0.4, -0.2, 0, 0.2, 0.4]}},
    "y": {"field": "v", "type": "quantitative", "axis": {"orient": "right", "labels": false, "title": null, "values": [-20, -10, 0, 10, 20]}}}}
 ],
 "resolve": {"axis": {"x": "independent", "y": "independent"}}
},
{"width": 294, "height": 265, "title": "(b) GdRh",
 "layer": [
  {"data": {"name": "zero"}, "mark": {"type": "rule", "strokeDash": [1, 2], "color": "#333", "strokeWidth": 1}, "encoding": {"x": {"field": "z", "type": "quantitative", "axis": null}}},
  {"data": {"name": "zero"}, "mark": {"type": "rule", "strokeDash": [1, 2], "color": "#333", "strokeWidth": 1}, "encoding": {"y": {"field": "z", "type": "quantitative", "axis": null}}},
  {"data": {"name": "bc"}, "mark": {"type": "line", "color": "black", "clip": true},
   "encoding": {
    "x": {"field": "e", "type": "quantitative", "scale": {"domain": [-0.7, 0.4], "nice": false, "zero": false}, "axis": {"orient": "bottom", "title": "E - Eꜰ  (Ry)", "values": [-0.6, -0.4, -0.2, 0, 0.2, 0.4], "labelExpr": "datum.value == 0 ? '0' : (datum.value < 0 ? '-' : '') + format(abs(datum.value), '.1f')"}},
    "y": {"field": "v", "type": "quantitative", "scale": {"domain": [-35, 35], "nice": false, "zero": false}, "axis": {"orient": "left", "title": "DOS (states/spin/Ry)", "values": [-30, -20, -10, 0, 10, 20, 30], "labelExpr": "format(abs(datum.value), 'd')"}},
    "strokeDash": {"field": "el", "type": "nominal", "scale": {"domain": ["Gd", "Mg", "Rh", "Ni", "Pd"], "range": [[1, 0], [4, 3], [4, 3], [4, 3], [4, 3]]}, "legend": null},
    "strokeWidth": {"field": "el", "type": "nominal", "scale": {"domain": ["Gd", "Mg", "Rh", "Ni", "Pd"], "range": [1.5, 1, 1, 1, 1]}, "legend": null},
    "detail": {"field": "sp", "type": "nominal"}}},
  {"data": {"name": "ba"}, "mark": {"type": "rule", "color": "black", "strokeWidth": 1.2}, "encoding": {"x": {"field": "e", "type": "quantitative", "axis": null}, "y": {"field": "v0", "type": "quantitative", "axis": null}, "y2": {"field": "v"}}},
  {"data": {"name": "ba"}, "mark": {"type": "point", "filled": true, "color": "black", "opacity": 1, "size": 40}, "encoding": {"x": {"field": "e", "type": "quantitative", "axis": null}, "y": {"field": "v", "type": "quantitative", "axis": null}, "shape": {"field": "d", "type": "nominal", "scale": {"domain": ["up", "down"], "range": ["triangle-up", "triangle-down"]}, "legend": null}}},
  {"data": {"name": "bt"}, "mark": {"type": "text", "color": "black", "fontSize": 15},
   "encoding": {"text": {"field": "t", "type": "nominal"},
    "x": {"field": "e", "type": "quantitative", "axis": {"orient": "top", "labels": false, "title": null, "values": [-0.6, -0.4, -0.2, 0, 0.2, 0.4]}},
    "y": {"field": "v", "type": "quantitative", "axis": {"orient": "right", "labels": false, "title": null, "values": [-30, -20, -10, 0, 10, 20, 30]}}}}
 ],
 "resolve": {"axis": {"x": "independent", "y": "independent"}}
}
], "spacing": 79},
{"hconcat": [
{"width": 294, "height": 262, "title": "(c) GdNi",
 "layer": [
  {"data": {"name": "zero"}, "mark": {"type": "rule", "strokeDash": [1, 2], "color": "#333", "strokeWidth": 1}, "encoding": {"x": {"field": "z", "type": "quantitative", "axis": null}}},
  {"data": {"name": "zero"}, "mark": {"type": "rule", "strokeDash": [1, 2], "color": "#333", "strokeWidth": 1}, "encoding": {"y": {"field": "z", "type": "quantitative", "axis": null}}},
  {"data": {"name": "cc"}, "mark": {"type": "line", "color": "black", "clip": true},
   "encoding": {
    "x": {"field": "e", "type": "quantitative", "scale": {"domain": [-0.6, 0.3], "nice": false, "zero": false}, "axis": {"orient": "bottom", "title": "E - Eꜰ  (Ry)", "values": [-0.6, -0.5, -0.4, -0.3, -0.2, -0.1, 0, 0.1, 0.2, 0.3], "labelExpr": "round(datum.value * 10) % 3 != 0 ? '' : datum.value == 0 ? '0' : (datum.value < 0 ? '-' : '') + format(abs(datum.value), '.1f')"}},
    "y": {"field": "v", "type": "quantitative", "scale": {"domain": [-50, 50], "nice": false, "zero": false}, "axis": {"orient": "left", "title": "DOS (states/spin/Ry)", "values": [-40, -30, -20, -10, 0, 10, 20, 30, 40], "labelExpr": "datum.value % 20 == 0 ? format(abs(datum.value), 'd') : ''"}},
    "strokeDash": {"field": "el", "type": "nominal", "scale": {"domain": ["Gd", "Mg", "Rh", "Ni", "Pd"], "range": [[1, 0], [4, 3], [4, 3], [4, 3], [4, 3]]}, "legend": null},
    "strokeWidth": {"field": "el", "type": "nominal", "scale": {"domain": ["Gd", "Mg", "Rh", "Ni", "Pd"], "range": [1.5, 1, 1, 1, 1]}, "legend": null},
    "detail": {"field": "sp", "type": "nominal"}}},
  {"data": {"name": "ca"}, "mark": {"type": "rule", "color": "black", "strokeWidth": 1.2}, "encoding": {"x": {"field": "e", "type": "quantitative", "axis": null}, "y": {"field": "v0", "type": "quantitative", "axis": null}, "y2": {"field": "v"}}},
  {"data": {"name": "ca"}, "mark": {"type": "point", "filled": true, "color": "black", "opacity": 1, "size": 40}, "encoding": {"x": {"field": "e", "type": "quantitative", "axis": null}, "y": {"field": "v", "type": "quantitative", "axis": null}, "shape": {"field": "d", "type": "nominal", "scale": {"domain": ["up", "down"], "range": ["triangle-up", "triangle-down"]}, "legend": null}}},
  {"data": {"name": "ct"}, "mark": {"type": "text", "color": "black", "fontSize": 15},
   "encoding": {"text": {"field": "t", "type": "nominal"},
    "x": {"field": "e", "type": "quantitative", "axis": {"orient": "top", "labels": false, "title": null, "values": [-0.6, -0.5, -0.4, -0.3, -0.2, -0.1, 0, 0.1, 0.2, 0.3]}},
    "y": {"field": "v", "type": "quantitative", "axis": {"orient": "right", "labels": false, "title": null, "values": [-40, -30, -20, -10, 0, 10, 20, 30, 40]}}}}
 ],
 "resolve": {"axis": {"x": "independent", "y": "independent"}}
},
{"width": 294, "height": 262, "title": "(d) GdPd",
 "layer": [
  {"data": {"name": "zero"}, "mark": {"type": "rule", "strokeDash": [1, 2], "color": "#333", "strokeWidth": 1}, "encoding": {"x": {"field": "z", "type": "quantitative", "axis": null}}},
  {"data": {"name": "zero"}, "mark": {"type": "rule", "strokeDash": [1, 2], "color": "#333", "strokeWidth": 1}, "encoding": {"y": {"field": "z", "type": "quantitative", "axis": null}}},
  {"data": {"name": "dc"}, "mark": {"type": "line", "color": "black", "clip": true},
   "encoding": {
    "x": {"field": "e", "type": "quantitative", "scale": {"domain": [-0.6, 0.3], "nice": false, "zero": false}, "axis": {"orient": "bottom", "title": "E - Eꜰ  (Ry)", "values": [-0.6, -0.5, -0.4, -0.3, -0.2, -0.1, 0, 0.1, 0.2, 0.3], "labelExpr": "round(datum.value * 10) % 3 != 0 ? '' : datum.value == 0 ? '0' : (datum.value < 0 ? '-' : '') + format(abs(datum.value), '.1f')"}},
    "y": {"field": "v", "type": "quantitative", "scale": {"domain": [-35, 35], "nice": false, "zero": false}, "axis": {"orient": "left", "title": "DOS (states/spin/Ry)", "values": [-30, -25, -20, -15, -10, -5, 0, 5, 10, 15, 20, 25, 30], "labelExpr": "datum.value % 10 == 0 ? format(abs(datum.value), 'd') : ''"}},
    "strokeDash": {"field": "el", "type": "nominal", "scale": {"domain": ["Gd", "Mg", "Rh", "Ni", "Pd"], "range": [[1, 0], [4, 3], [4, 3], [4, 3], [4, 3]]}, "legend": null},
    "strokeWidth": {"field": "el", "type": "nominal", "scale": {"domain": ["Gd", "Mg", "Rh", "Ni", "Pd"], "range": [1.5, 1, 1, 1, 1]}, "legend": null},
    "detail": {"field": "sp", "type": "nominal"}}},
  {"data": {"name": "da"}, "mark": {"type": "rule", "color": "black", "strokeWidth": 1.2}, "encoding": {"x": {"field": "e", "type": "quantitative", "axis": null}, "y": {"field": "v0", "type": "quantitative", "axis": null}, "y2": {"field": "v"}}},
  {"data": {"name": "da"}, "mark": {"type": "point", "filled": true, "color": "black", "opacity": 1, "size": 40}, "encoding": {"x": {"field": "e", "type": "quantitative", "axis": null}, "y": {"field": "v", "type": "quantitative", "axis": null}, "shape": {"field": "d", "type": "nominal", "scale": {"domain": ["up", "down"], "range": ["triangle-up", "triangle-down"]}, "legend": null}}},
  {"data": {"name": "dt"}, "mark": {"type": "text", "color": "black", "fontSize": 15},
   "encoding": {"text": {"field": "t", "type": "nominal"},
    "x": {"field": "e", "type": "quantitative", "axis": {"orient": "top", "labels": false, "title": null, "values": [-0.6, -0.5, -0.4, -0.3, -0.2, -0.1, 0, 0.1, 0.2, 0.3]}},
    "y": {"field": "v", "type": "quantitative", "axis": {"orient": "right", "labels": false, "title": null, "values": [-30, -25, -20, -15, -10, -5, 0, 5, 10, 15, 20, 25, 30]}}}}
 ],
 "resolve": {"axis": {"x": "independent", "y": "independent"}}
}
], "spacing": 79}
],
"spacing": 52,
"config": {
 "view": {"stroke": "black", "strokeWidth": 1.2},
 "font": "DejaVu Sans",
 "axis": {"domain": false, "grid": false, "offset": -5, "tickColor": "black", "tickSize": 5, "tickWidth": 1.2, "labelFont": "DejaVu Sans", "labelFontSize": 15, "labelColor": "black", "titleFont": "DejaVu Sans", "titleFontSize": 15, "titleFontWeight": "normal", "titleColor": "black"},
 "axisBottom": {"labelPadding": 7, "titlePadding": 9},
 "axisLeft": {"labelPadding": 8, "titlePadding": 13},
 "text": {"font": "DejaVu Sans"},
 "title": {"font": "Liberation Serif", "fontSize": 30, "fontWeight": "normal", "orient": "bottom", "offset": 15, "color": "black"}
}
}
